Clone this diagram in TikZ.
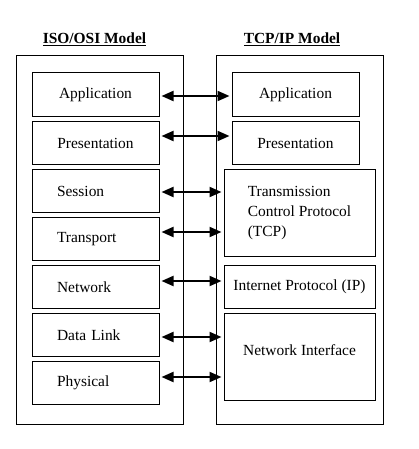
\documentclass[tikz,border=0pt]{standalone}
\usepackage{fontspec}
\setmainfont{Liberation Serif}
\usetikzlibrary{arrows.meta}

\tikzset{
  frame/.style={draw, line width=1bp},
  layer/.style={draw, line width=1bp, inner sep=0pt, minimum width=127bp, minimum height=44bp},
  leftlayer/.style={layer, inner xsep=25bp, text width=77bp, align=left},
  biglayer/.style={draw, line width=1bp, inner sep=0pt, minimum width=151bp},
  title/.style={font=\fontsize{15.5}{20}\selectfont\bfseries},
  link/.style={{Triangle[length=12bp,width=10bp]}-{Triangle[length=12bp,width=10bp]}, line width=2bp, shorten <=2bp, shorten >=2bp}
}

\begin{document}
\begin{tikzpicture}[x=1bp, y=-1bp, font=\fontsize{15.5}{20}\selectfont]
  \useasboundingbox (0,0) rectangle (418,449);
  % the two models
  \draw[frame] (16,56) rectangle (183,424);
  \draw[frame] (216,56) rectangle (383,424);
  \node[title] (isotitle) at (94.5,39) {\underline{ISO/OSI Model}};
  \node[title] (tcptitle) at (292,39) {\underline{TCP/IP Model}};

  % ISO/OSI layers
  \node[layer] (iapp) at (95.5,95) {Application};
  \node[layer, minimum height=43bp] (ipre) at (95.5,143) {Presentation};
  \node[leftlayer, minimum height=43bp] (ises) at (95.5,191) {Session};
  \node[leftlayer, minimum height=43bp] (itra) at (95.5,239) {Transport};
  \node[leftlayer, minimum height=43bp] (inet) at (95.5,287) {Network};
  \node[leftlayer, minimum height=43bp] (idl) at (95.5,335) {Data Link};
  \node[leftlayer, minimum height=43bp] (iphy) at (95.5,383) {Physical};

  % TCP/IP layers
  \node[layer] (tapp) at (295.5,95) {Application};
  \node[layer, minimum height=43bp] (tpre) at (295.5,143) {Presentation};
  \node[biglayer, minimum height=87bp, align=left] (ttcp) at (299.5,213) {Transmission\\Control Protocol\\(TCP)};
  \node[biglayer, minimum height=43bp] (tip) at (299.5,287) {Internet Protocol (IP)};
  \node[biglayer, minimum height=87bp, text depth=14bp] (tni) at (299.5,357) {Network Interface};

  % peer layers
  \foreach \l/\r/\dy in {iapp/tapp/-1, ipre/tpre/7, ises/ttcp/-1, itra/ttcp/7,
                         inet/tip/6, idl/tni/-2, iphy/tni/6}
    \draw[link] ([yshift=\dy bp]\l.east) coordinate (s) -- (s -| \r.west);
\end{tikzpicture}
\end{document}
